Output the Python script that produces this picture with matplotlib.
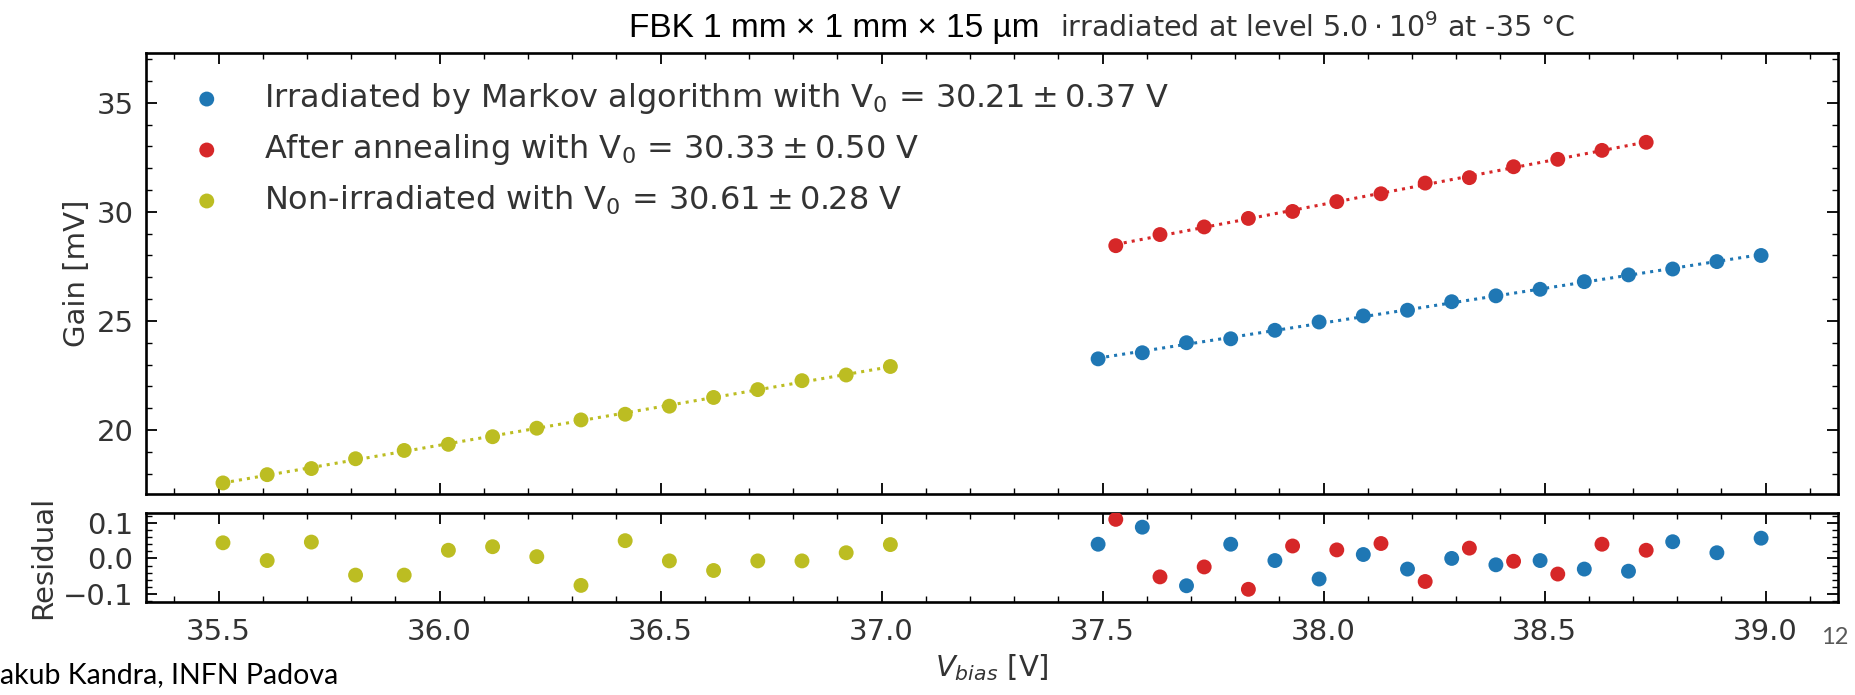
import matplotlib
matplotlib.use("Agg")
import matplotlib.pyplot as plt
import numpy as np
from matplotlib.ticker import MultipleLocator

# gain vs bias voltage
irr_x = [37.49, 37.59, 37.69, 37.79, 37.89, 37.99, 38.09, 38.19,
         38.29, 38.39, 38.49, 38.59, 38.69, 38.79, 38.89, 38.99]
irr_y = [23.26, 23.54, 24.00, 24.18, 24.57, 24.95, 25.23, 25.49,
         25.88, 26.15, 26.45, 26.80, 27.11, 27.38, 27.72, 28.00]
irr_res = [0.040, 0.088, -0.077, 0.040, -0.006, -0.058, 0.011, -0.030,
           0.000, -0.018, -0.006, -0.030, -0.036, 0.047, 0.016, 0.057]

ann_x = [37.53, 37.63, 37.73, 37.83, 37.93, 38.03, 38.13, 38.23,
         38.33, 38.43, 38.53, 38.63, 38.73]
ann_y = [28.45, 28.96, 29.31, 29.70, 30.02, 30.47, 30.83, 31.32,
         31.57, 32.07, 32.41, 32.82, 33.19]
ann_res = [0.110, -0.052, -0.024, -0.087, 0.035, 0.024, 0.042, -0.065,
           0.029, -0.008, -0.044, 0.040, 0.023]

non_x = [35.51, 35.61, 35.71, 35.81, 35.92, 36.02, 36.12, 36.22,
         36.32, 36.42, 36.52, 36.62, 36.72, 36.82, 36.92, 37.02]
non_y = [17.57, 17.95, 18.23, 18.68, 19.06, 19.34, 19.69, 20.08,
         20.46, 20.72, 21.09, 21.49, 21.85, 22.26, 22.52, 22.91]
non_res = [0.044, -0.006, 0.046, -0.047, -0.047, 0.023, 0.033, 0.005,
           -0.076, 0.050, -0.007, -0.034, -0.007, -0.007, 0.016, 0.039]

labels = [r"Irradiated by Markov algorithm with $\mathrm{V}_0$ = $30.21 \pm 0.37$ V",
          r"After annealing with $\mathrm{V}_0$ = $30.33 \pm 0.50$ V",
          r"Non-irradiated with $\mathrm{V}_0$ = $30.61 \pm 0.28$ V"]
colors = ["#1f77b4", "#d62728", "#bcbd22"]

txt = "#333333"
plt.rcParams["font.family"] = "DejaVu Sans"
plt.rcParams["axes.linewidth"] = 1.9
plt.rcParams["text.color"] = txt
plt.rcParams["axes.labelcolor"] = txt
plt.rcParams["xtick.color"] = "black"
plt.rcParams["ytick.color"] = "black"
plt.rcParams["xtick.labelcolor"] = txt
plt.rcParams["ytick.labelcolor"] = txt

fig = plt.figure(figsize=(18.56, 6.95), dpi=100)
ax = fig.add_axes([0.0787, 0.2888, 0.9116, 0.6354])
axr = fig.add_axes([0.0787, 0.1342, 0.9116, 0.1277], sharex=ax)

series = [(irr_x, irr_y, irr_res), (ann_x, ann_y, ann_res), (non_x, non_y, non_res)]
for (x, y, r), c, lab in zip(series, colors, labels):
    x = np.array(x)
    k, b = np.polyfit(x, y, 1)
    ax.plot(x, k * x + b, ls=":", lw=2.2, color=c, zorder=2)
    ax.scatter(x, y, s=115, color=c, label=lab, zorder=3, edgecolors="none")
    axr.scatter(x, r, s=115, color=c, zorder=3, edgecolors="none")

ax.set_ylim(17.05, 37.3)
axr.set_ylim(-0.122, 0.128)
ax.set_ylabel("Gain [mV]", fontsize=21)
axr.set_ylabel("Residual", fontsize=21)
axr.set_xlabel(r"$V_{bias}$ [V]", fontsize=21)

for a in (ax, axr):
    a.tick_params(which="both", direction="in", top=True, right=True)
    a.tick_params(which="major", length=8, width=1.3, labelsize=21)
    a.tick_params(which="minor", length=4, width=1.0)
    a.tick_params(axis="y", pad=9)
    a.tick_params(axis="x", pad=12)
    a.xaxis.set_major_locator(MultipleLocator(0.5))
    a.xaxis.set_minor_locator(MultipleLocator(0.1))
ax.yaxis.set_major_locator(MultipleLocator(5))
ax.yaxis.set_minor_locator(MultipleLocator(1))
axr.yaxis.set_major_locator(MultipleLocator(0.1))
axr.yaxis.set_minor_locator(MultipleLocator(0.02))
ax.tick_params(labelbottom=False)

ax.legend(loc="upper left", frameon=False, fontsize=23, scatterpoints=1)

# plot title, partly hidden under the slide title
fig.text(0.5711, 0.9468, r"irradiated at level $5.0 \cdot 10^9$ at -35 °C",
         fontsize=20.5, ha="left", va="baseline")
fig.text(0.5603, 0.9468, "FBK 1 mm × 1 mm × 15 µm", family="Liberation Sans",
         fontsize=24, color="black", ha="right", va="baseline",
         bbox=dict(facecolor="white", edgecolor="none", pad=1))

# slide footer
fig.text(0.0, 0.017, "akub Kandra, INFN Padova", family="Lato", fontsize=20.5,
         color="black", ha="left", va="baseline")
fig.text(0.9957, 0.073, "12", family="Lato", fontsize=17, color="#595959",
         ha="right", va="baseline")

fig.savefig("out.png", dpi=100)
